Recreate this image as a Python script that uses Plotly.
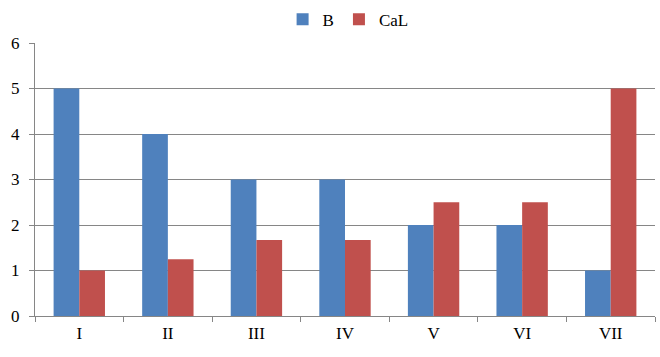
import plotly.graph_objects as go

categories = ["I", "II", "III", "IV", "V", "VI", "VII"]
b_values = [5, 4, 3, 3, 2, 2, 1]
cal_values = [1, 1.25, 1.67, 1.67, 2.5, 2.5, 5]
y_ticks = [0, 1, 2, 3, 4, 5, 6]

fig = go.Figure()
fig.add_bar(name="B", x=categories, y=b_values, marker=dict(color="#4F81BD", line=dict(width=0)))
fig.add_bar(name="CaL", x=categories, y=cal_values, marker=dict(color="#C0504D", line=dict(width=0)))

font = dict(family="'Liberation Serif', 'Times New Roman', Times, serif", size=17, color="#000000")
fig.update_layout(
    width=660, height=357,
    margin=dict(l=35, r=5, t=43, b=41, autoexpand=False),
    paper_bgcolor="white", plot_bgcolor="white",
    font=font,
    barmode="group", bargap=0.42, bargroupgap=0,
    showlegend=True,
    legend=dict(orientation="h", x=0.505, xanchor="center", y=0.995, yanchor="top",
                yref="container", font=font, traceorder="normal", itemwidth=30),
)
fig.update_xaxes(
    showline=True, linecolor="#868686", linewidth=1,
    ticks="outside", tickson="boundaries", ticklen=5, tickcolor="#868686",
    showgrid=False, tickfont=font, ticklabelstandoff=2,
)
fig.update_yaxes(
    range=[0, 6], tickvals=y_ticks, showline=True, linecolor="#868686", linewidth=1,
    ticks="outside", ticklen=5, tickcolor="#868686", ticklabelstandoff=6,
    showgrid=True, gridcolor="#868686", gridwidth=1, zeroline=False, tickfont=font,
)
fig.write_html("out.html")
